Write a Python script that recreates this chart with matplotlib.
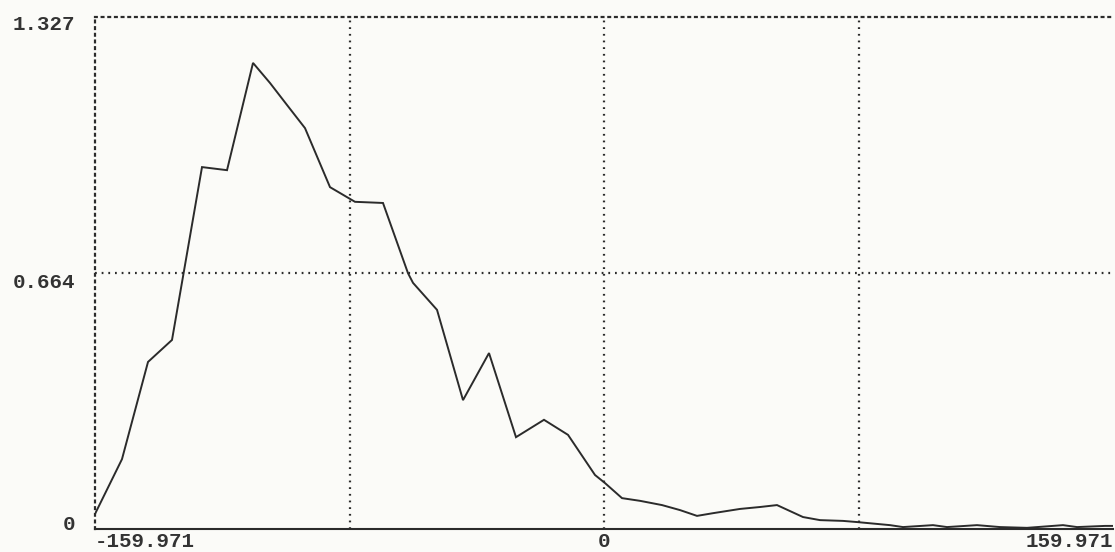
import numpy as np
import matplotlib
matplotlib.use("Agg")
import matplotlib.pyplot as plt
from matplotlib.transforms import ScaledTranslation

# axis range
X_MIN, X_MAX = -159.971, 159.971
Y_MAX = 1.327

# curve
x_vals = [-159.97, -151.49, -143.31, -135.77, -126.34, -118.48, -110.31, -104.97,
          -99.63, -93.97, -86.11, -78.26, -69.46, -61.60, -60.03, -52.48,
          -44.31, -36.14, -27.66, -18.86, -11.31, -2.83, 0.32, 5.66,
          11.32, 18.23, 23.89, 29.23, 34.26, 42.74, 49.03, 54.37,
          62.54, 67.89, 75.12, 79.52, 89.89, 93.97, 103.40, 107.80,
          117.23, 124.46, 132.94, 144.26, 148.66, 157.46, 159.97]
y_vals = [0.039, 0.181, 0.433, 0.490, 0.938, 0.930, 1.208, 1.156,
          1.099, 1.039, 0.886, 0.848, 0.845, 0.663, 0.638, 0.568,
          0.334, 0.456, 0.238, 0.283, 0.244, 0.140, 0.119, 0.080,
          0.073, 0.062, 0.049, 0.034, 0.041, 0.052, 0.057, 0.062,
          0.031, 0.023, 0.021, 0.018, 0.010, 0.005, 0.010, 0.005,
          0.010, 0.005, 0.003, 0.010, 0.005, 0.008, 0.008]

x_ticks = [X_MIN, 0, X_MAX]
x_tick_labels = ["-159.971", "0", "159.971"]
y_ticks = [0, 0.664, Y_MAX]
y_tick_labels = ["0", "0.664", "1.327"]

x_grid = [X_MIN / 2, 0, X_MAX / 2]
y_grid = [Y_MAX / 2]

BG = "#fbfbf8"
INK = "#2b2b2b"
FONT = dict(family="Liberation Mono", size=15, weight="bold", color="#333333")
DOTS = (0, (0.8, 2.2))

fig = plt.figure(figsize=(11.15, 5.52), dpi=100, facecolor=BG)
ax = fig.add_axes([95 / 1115, 23 / 552, 1018 / 1115, 512 / 552], facecolor=BG)

ax.plot(x_vals, y_vals, color=INK, linewidth=1.4, solid_joinstyle="miter")

for gx in x_grid:
    ax.axvline(gx, color=INK, linewidth=1.6, linestyle=DOTS)
for gy in y_grid:
    ax.axhline(gy, color=INK, linewidth=1.6, linestyle=DOTS)

ax.set_xlim(X_MIN, X_MAX)
ax.set_ylim(0, Y_MAX)

# spines: dotted left/top, solid bottom
ax.spines["right"].set_visible(False)
for side in ["left", "top"]:
    ax.spines[side].set_linestyle(DOTS)
    ax.spines[side].set_linewidth(1.6)
    ax.spines[side].set_color(INK)
ax.spines["bottom"].set_linewidth(1.5)
ax.spines["bottom"].set_color(INK)

ax.set_xticks(x_ticks)
ax.set_xticklabels(x_tick_labels, fontdict=FONT)
ax.set_yticks(y_ticks)
ax.set_yticklabels(y_tick_labels, fontdict=FONT)
ax.tick_params(length=0, pad=2)
ax.tick_params(axis="y", pad=14)

xl = ax.get_xticklabels()
xl[0].set_ha("left")
xl[-1].set_ha("right")

# labels sit a little off their lines, like the plotter output
shifts = [6, -8, -6]
for lab, dy in zip(ax.get_yticklabels(), shifts):
    lab.set_transform(lab.get_transform() + ScaledTranslation(0, dy / 100, fig.dpi_scale_trans))

fig.savefig("out.png", dpi=100, facecolor=BG)
